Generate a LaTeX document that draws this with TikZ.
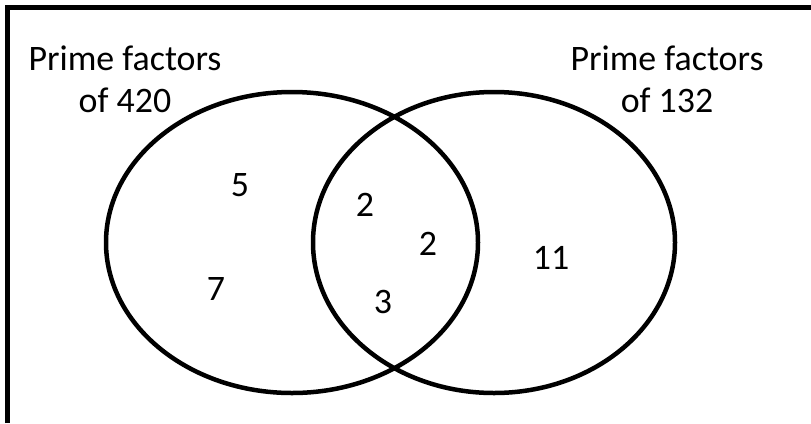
\documentclass[tikz,border=0pt]{standalone}
\usepackage{fontspec}
\setmainfont{Carlito}
\begin{document}
\begin{tikzpicture}[x=1bp,y=-1bp,
  outline/.style={line width=4.5bp,black},
  label/.style={inner sep=0pt,font=\fontsize{36}{42}\selectfont},
  setname/.style={label,align=center,anchor=base}]
\useasboundingbox (0,0) rectangle (811,423);
% frame: left and top edges
\draw[outline] (7.5,423) -- (7.5,7.5) -- (811,7.5);
% the two sets
\draw[outline] (292,242.5) ellipse [x radius=186, y radius=150.5];
\draw[outline] (494,242.5) ellipse [x radius=181, y radius=150.5];
% set names (anchored at the baseline of the lower line)
\node[setname] (nameA) at (125,112) {Prime factors\\of 420};
\node[setname] (nameB) at (667,112) {Prime factors\\of 132};
% elements
\node[label] (five)   at (240,185) {5};
\node[label] (seven)  at (216,289) {7};
\node[label] (twoA)   at (365,205) {2};
\node[label] (twoB)   at (428,244) {2};
\node[label] (three)  at (383,302) {3};
\node[label] (eleven) at (551,258) {11};
\end{tikzpicture}
\end{document}
